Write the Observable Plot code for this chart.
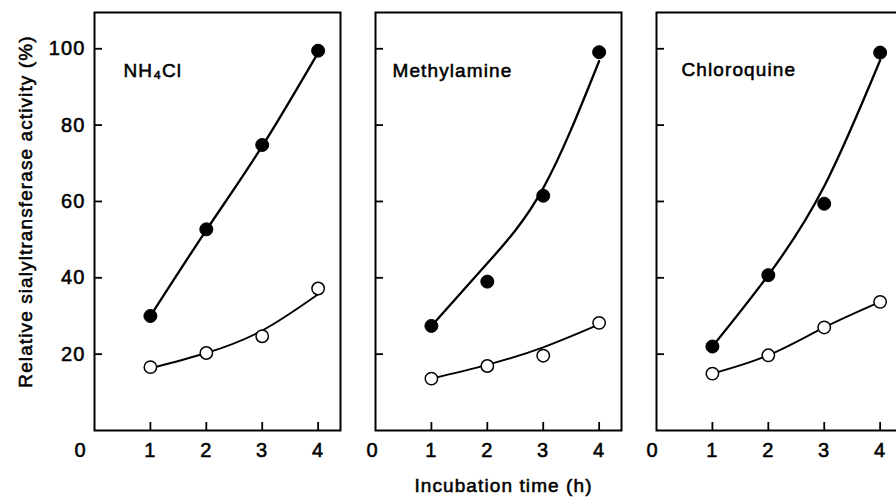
<!DOCTYPE html>
<html>
<head>
<meta charset="utf-8">
<script src="https://cdn.jsdelivr.net/npm/d3@7"></script>
<script src="https://cdn.jsdelivr.net/npm/@observablehq/plot@0.6"></script>
<style>
  html, body { margin: 0; padding: 0; background: #fff; overflow: hidden; width: 896px; height: 500px; }
  #chart svg { max-width: none !important; display: block; }
  #chart svg text { letter-spacing: 1.1px; stroke: #000; stroke-width: 0.55px; }
</style>
</head>
<body>
<div id="chart"></div>
<script>
const hours = [1, 2, 3, 4];
const panels = ["NH4Cl", "Methylamine", "Chloroquine"];
const panelTitles = ["NH\u2084Cl", "Methylamine", "Chloroquine"];

// measured points (filled = treated, open = control)
const nh4clFilled  = [30.0, 52.7, 74.8, 99.5];
const nh4clOpen    = [16.6, 20.3, 24.7, 37.2];
const methylFilled = [27.4, 39.0, 61.5, 99.1];
const methylOpen   = [13.6, 16.9, 19.6, 28.2];
const chloroFilled = [22.0, 40.7, 59.4, 99.0];
const chloroOpen   = [14.9, 19.7, 27.0, 33.7];

// hand-drawn fitted curves
const nh4clFilledFit  = [30.0, 52.5, 74.5, 99.0];
const nh4clOpenFit    = [16.3, 20.3, 26.2, 35.7];
const methylFilledFit = [27.4, 43.8, 63.5, 96.8];
const methylOpenFit   = [13.6, 17.2, 21.8, 27.8];
const chloroFilledFit = [22.0, 40.7, 64.0, 97.0];
const chloroOpenFit   = [14.9, 19.7, 27.0, 33.7];

const xTicks = [1, 2, 3, 4];
const yTicks = [20, 40, 60, 80, 100];
const zeroTick = [0];
const xLabel = "Incubation time (h)";
const yLabel = "Relative sialyltransferase activity (%)";

const pointSets = [
  [nh4clFilled, nh4clOpen],
  [methylFilled, methylOpen],
  [chloroFilled, chloroOpen]
];
const fitSets = [
  [nh4clFilledFit, nh4clOpenFit],
  [methylFilledFit, methylOpenFit],
  [chloroFilledFit, chloroOpenFit]
];

const points = [];
const fits = [];
panels.forEach((p, i) => {
  ["filled", "open"].forEach((s, j) => {
    hours.forEach((h, k) => {
      points.push({panel: p, series: s, hour: h, value: pointSets[i][j][k]});
      fits.push({panel: p, series: s, hour: h, value: fitSets[i][j][k]});
    });
  });
});
const titleRows = panels.map((p, i) => ({panel: p, title: panelTitles[i]}));

const FONT = "'Liberation Sans', Arial, Helvetica, sans-serif";
const fmt = d => String(d);

const chart = Plot.plot({
  width: 910,
  height: 500,
  marginLeft: 94,
  marginRight: 8,
  marginTop: 12,
  marginBottom: 70,
  style: {fontFamily: FONT, fontSize: "19px", color: "#000", background: "#fff"},
  fx: {domain: panels, paddingInner: 0.1246, paddingOuter: 0, axis: null, label: null},
  x: {domain: [0, 4.4], axis: null, label: null},
  y: {domain: [0, 109.5], axis: null, label: null},
  marks: [
    Plot.frame({stroke: "#000", strokeWidth: 2}),
    // inward ticks
    Plot.axisX({ticks: xTicks, text: null, label: null, tickSize: 8, dy: -8, strokeWidth: 1.8, facetAnchor: null}),
    Plot.axisY({ticks: yTicks, text: null, label: null, tickSize: 8, dx: 8, strokeWidth: 1.8, facetAnchor: null}),
    // tick labels
    Plot.axisX({ticks: xTicks, tickFormat: fmt, tickSize: 0, tickPadding: 12, label: null, fontSize: 20, facetAnchor: null}),
    Plot.text(zeroTick, {x: d => d, text: fmt, fx: () => panels[0], frameAnchor: "bottom", lineAnchor: "top", dy: 12, dx: -14, fontSize: 20}),
    Plot.text(zeroTick, {x: d => d, text: fmt, fx: () => panels[1], frameAnchor: "bottom", lineAnchor: "top", dy: 12, dx: -3, fontSize: 20}),
    Plot.text(zeroTick, {x: d => d, text: fmt, fx: () => panels[2], frameAnchor: "bottom", lineAnchor: "top", dy: 12, dx: -4, fontSize: 20}),
    Plot.axisY({ticks: yTicks, tickFormat: fmt, tickSize: 0, tickPadding: 9, label: null, fontSize: 20, facetAnchor: "left"}),
    // axis titles
    Plot.text([yLabel], {text: d => d, fx: () => panels[0], frameAnchor: "left", textAnchor: "middle", rotate: -90, dx: -69, dy: -10, fontSize: 19}),
    Plot.text([xLabel], {text: d => d, fx: () => panels[1], frameAnchor: "bottom", textAnchor: "middle", lineAnchor: "top", dx: 5, dy: 48, fontSize: 19}),
    // panel titles
    Plot.text(titleRows.filter(d => d.panel === panels[0]), {fx: "panel", text: "title", frameAnchor: "top-left", textAnchor: "start", lineAnchor: "top", dx: 29, dy: 51, fontSize: 19}),
    Plot.text(titleRows.filter(d => d.panel === panels[1]), {fx: "panel", text: "title", frameAnchor: "top-left", textAnchor: "start", lineAnchor: "top", dx: 17, dy: 51, fontSize: 19}),
    Plot.text(titleRows.filter(d => d.panel === panels[2]), {fx: "panel", text: "title", frameAnchor: "top-left", textAnchor: "start", lineAnchor: "top", dx: 25, dy: 50, fontSize: 19}),
    // fitted curves
    Plot.line(fits.filter(d => d.series === "filled"), {x: "hour", y: "value", fx: "panel", z: "panel", curve: "natural", stroke: "#000", strokeWidth: 2.3}),
    Plot.line(fits.filter(d => d.series === "open"), {x: "hour", y: "value", fx: "panel", z: "panel", curve: "natural", stroke: "#000", strokeWidth: 1.9}),
    // data points
    Plot.dot(points.filter(d => d.series === "filled"), {x: "hour", y: "value", fx: "panel", r: 6.5, fill: "#000", stroke: "#000", strokeWidth: 1}),
    Plot.dot(points.filter(d => d.series === "open"), {x: "hour", y: "value", fx: "panel", r: 6.2, fill: "#fff", stroke: "#000", strokeWidth: 1.5})
  ]
});
chart.style.maxWidth = "none";
document.getElementById("chart").appendChild(chart);
</script>
</body>
</html>
